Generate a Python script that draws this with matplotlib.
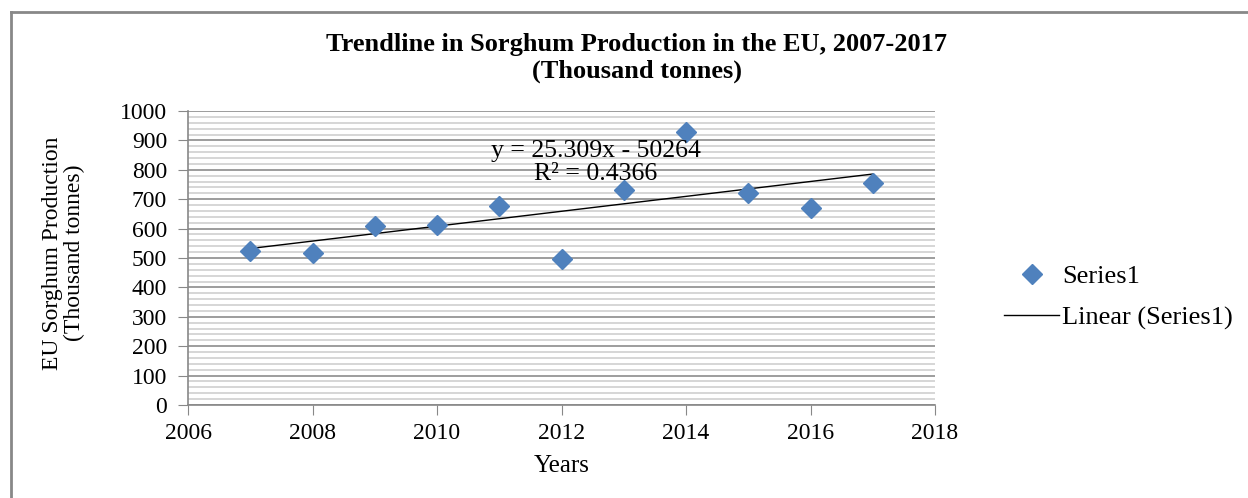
import matplotlib
matplotlib.use('Agg')
import matplotlib.pyplot as plt
import numpy as np
from matplotlib.lines import Line2D
from matplotlib.ticker import MultipleLocator

# EU sorghum production (thousand tonnes)
years = [2007, 2008, 2009, 2010, 2011, 2012, 2013, 2014, 2015, 2016, 2017]
production = [525, 517, 610, 612, 678, 498, 732, 930, 720, 670, 756]
x_ticks = [2006, 2008, 2010, 2012, 2014, 2016, 2018]
y_ticks = [0, 100, 200, 300, 400, 500, 600, 700, 800, 900, 1000]
equation_text = 'y = 25.309x - 50264\nR\u00b2 = 0.4366'

plt.rcParams['font.family'] = ['Liberation Serif', 'DejaVu Serif']

fig = plt.figure(figsize=(12.48, 4.98), dpi=100)
ax = fig.add_axes([188 / 1248, 1 - 405 / 498, (935 - 188) / 1248, (405 - 111) / 498])

# Scatter + linear trendline
ax.plot(years, production, linestyle='none', marker='D', markersize=10,
        color='#4F81BD', label='Series1', zorder=3)
coef = np.polyfit(years, production, 1)
trend_x = np.array([years[0], years[-1]])
ax.plot(trend_x, np.polyval(coef, trend_x), color='black', linewidth=1,
        label='Linear (Series1)', zorder=2)

ax.text(2012.55, 824, equation_text, ha='center', va='center', fontsize=18.5,
        linespacing=1.05)

ax.set_xlim(2006, 2018)
ax.set_ylim(0, 1000)
ax.set_xticks(x_ticks)
ax.set_yticks(y_ticks)
ax.yaxis.set_minor_locator(MultipleLocator(20))
ax.tick_params(axis='both', which='major', direction='out', length=7,
               color='#888888', labelsize=17)
ax.tick_params(axis='x', which='major', pad=6)
ax.tick_params(axis='y', which='major', pad=8)
ax.tick_params(axis='y', which='minor', length=0)

# Gridlines: darker every 100, lighter every 20
ax.grid(axis='y', which='major', color='#8c8c8c', linewidth=1.2, zorder=0)
ax.grid(axis='y', which='minor', color='#cfcfcf', linewidth=1.2, zorder=0)
ax.set_axisbelow(True)

for side in ['top', 'right']:
    ax.spines[side].set_visible(False)
for side in ['left', 'bottom']:
    ax.spines[side].set_color('#888888')
    ax.spines[side].set_linewidth(1.2)

ax.set_xlabel('Years', fontsize=18)
ax.xaxis.set_label_coords(0.5, -0.169)
ax.set_ylabel('EU Sorghum Production\n(Thousand tonnes)', fontsize=17,
              linespacing=1.05)
ax.yaxis.set_label_coords(-0.138, 0.517)

fig.text(637 / 1248, 1 - 58 / 498,
         'Trendline in Sorghum Production in the EU, 2007-2017\n(Thousand tonnes)',
         ha='center', va='center', fontsize=19, fontweight='bold', linespacing=1.2)

fig.legend(loc='center left', bbox_to_anchor=(1004 / 1248, 1 - 297 / 498),
           frameon=False, fontsize=19, handlelength=2.1, handletextpad=0.1,
           labelspacing=0.68, borderaxespad=0, borderpad=0)

# Outer chart border (left and top edges visible in the reference)
fig.add_artist(Line2D([11 / 1248, 11 / 1248], [0, 1 - 12 / 498],
                      transform=fig.transFigure, color='#888888', linewidth=2))
fig.add_artist(Line2D([11 / 1248, 1], [1 - 12 / 498, 1 - 12 / 498],
                      transform=fig.transFigure, color='#888888', linewidth=2))

fig.savefig('out.png', dpi=100)
